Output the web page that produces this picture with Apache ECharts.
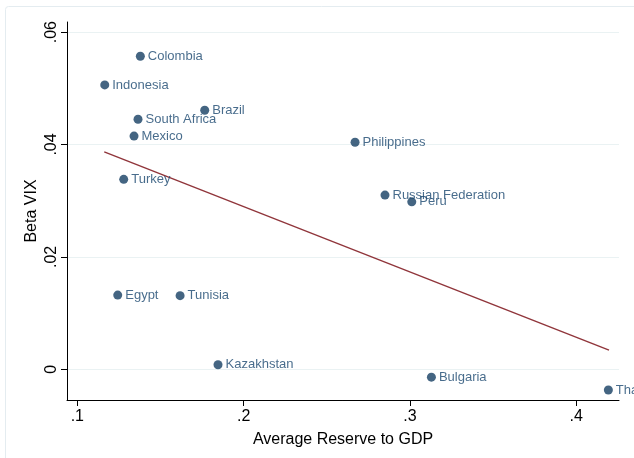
<!DOCTYPE html>
<html>
<head>
<meta charset="utf-8">
<script src="https://cdn.jsdelivr.net/npm/echarts@6/dist/echarts.min.js"></script>
<style>
  html, body { margin: 0; padding: 0; background: #ffffff; }
  #chart { width: 634px; height: 458px; }
</style>
</head>
<body>
<div id="chart"></div>
<script>
// Country observations: average reserves/GDP vs. beta on VIX
const countries = ['Colombia', 'Indonesia', 'Brazil', 'South Africa', 'Mexico', 'Turkey',
  'Philippines', 'Russian Federation', 'Peru', 'Egypt', 'Tunisia', 'Kazakhstan', 'Bulgaria', 'Thailand'];
const reserveToGdp = [0.1379, 0.1165, 0.1766, 0.1365, 0.1341, 0.1279,
  0.2670, 0.2850, 0.3011, 0.1243, 0.1618, 0.1846, 0.3129, 0.4193];
const betaVix = [0.0557, 0.0506, 0.0461, 0.0445, 0.0415, 0.0338,
  0.0404, 0.0310, 0.0298, 0.0132, 0.0131, 0.0008, -0.0014, -0.0037];

// Fitted line endpoints
const fitX = [0.1162, 0.4197];
const fitY = [0.0387, 0.0034];

// Axis ticks and their labels
const xTicks = [0.1, 0.2, 0.3, 0.4];
const xTickLabels = ['.1', '.2', '.3', '.4'];
const yTicks = [0, 0.02, 0.04, 0.06];
const yTickLabels = ['0', '.02', '.04', '.06'];

const FONT = '"Liberation Sans", Arial, sans-serif';
const NAVY = '#1a476f';

const points = countries.map((c, i) => [reserveToGdp[i], betaVix[i], c]);
const fitLine = fitX.map((x, i) => [x, fitY[i]]);

function tickLabel(values, labels) {
  return v => {
    for (let i = 0; i < values.length; i++) {
      if (Math.abs(values[i] - v) < 1e-9) return labels[i];
    }
    return '';
  };
}

const chart = echarts.init(document.getElementById('chart'), null, { renderer: 'canvas' });
chart.setOption({
  animation: false,
  backgroundColor: '#ffffff',
  graphic: [{
    type: 'rect',
    shape: { x: 5.5, y: 6.5, width: 700, height: 500, r: 3 },
    style: { fill: 'none', stroke: '#e4ecf0', lineWidth: 1 },
    silent: true,
    z: -10
  }],
  grid: { left: 67, top: 22, right: 15, bottom: 58, containLabel: false },
  xAxis: {
    type: 'value',
    min: 0.0938,
    max: 0.4257,
    name: 'Average Reserve to GDP',
    nameLocation: 'middle',
    nameGap: 32,
    nameTextStyle: { fontFamily: FONT, fontSize: 16, color: '#000' },
    axisLine: { show: true, onZero: false, lineStyle: { color: '#000', width: 1 } },
    axisTick: { show: true, length: 6, customValues: xTicks, lineStyle: { color: '#000' } },
    axisLabel: {
      customValues: xTicks,
      formatter: tickLabel(xTicks, xTickLabels),
      fontFamily: FONT, fontSize: 16, color: '#000', margin: 9
    },
    splitLine: { show: false }
  },
  yAxis: {
    type: 'value',
    min: -0.00547,
    max: 0.0618,
    name: 'Beta VIX',
    nameLocation: 'middle',
    nameGap: 27,
    nameMoveOverlap: false,
    nameRotate: 90,
    nameTextStyle: { fontFamily: FONT, fontSize: 16, color: '#000' },
    axisLine: { show: true, onZero: false, lineStyle: { color: '#000', width: 1 } },
    axisTick: { show: true, length: 6, customValues: yTicks, lineStyle: { color: '#000' } },
    axisLabel: {
      customValues: yTicks,
      rotate: 90,
      formatter: tickLabel(yTicks, yTickLabels),
      fontFamily: FONT, fontSize: 16, color: '#000', margin: 7
    },
    splitLine: { show: false }
  },
  series: [
    {
      type: 'scatter',
      data: points,
      symbol: 'circle',
      symbolSize: 9,
      itemStyle: { color: '#153e63' },
      label: {
        show: true,
        position: 'right',
        distance: 3,
        formatter: p => p.data[2],
        fontFamily: FONT,
        fontSize: 13,
        color: NAVY
      },
      markLine: {
        silent: true,
        symbol: 'none',
        label: { show: false },
        lineStyle: { color: '#eaf2f3', width: 1, type: 'solid' },
        data: yTicks.map(v => ({ yAxis: v })),
        z: 0
      },
      z: 3
    },
    {
      type: 'line',
      data: fitLine,
      showSymbol: false,
      symbol: 'none',
      lineStyle: { color: '#90353b', width: 1.4 },
      z: 2
    }
  ]
});
</script>
</body>
</html>
